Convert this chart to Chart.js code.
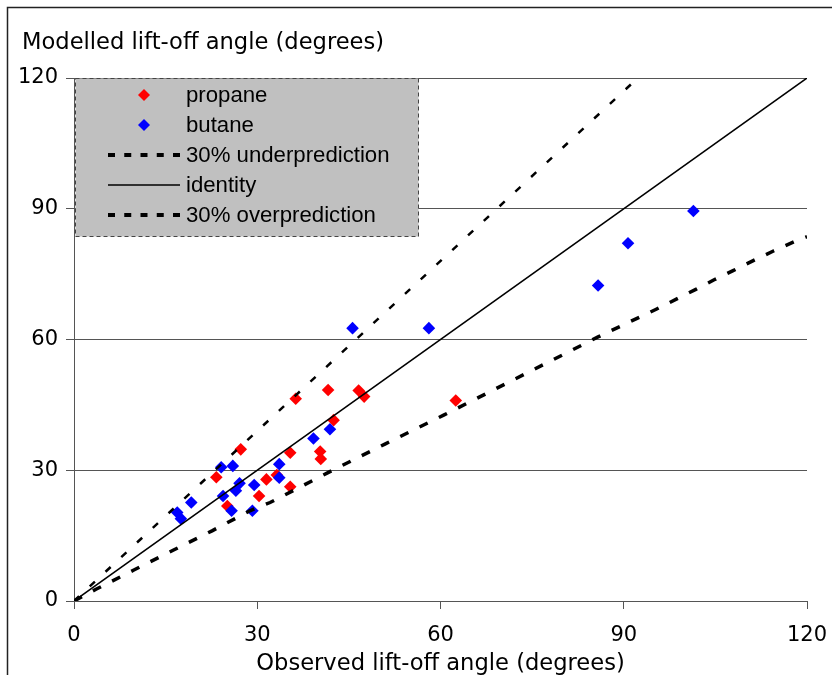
<!DOCTYPE html>
<html>
<head>
<meta charset="utf-8">
<script src="https://cdn.jsdelivr.net/npm/chart.js@4/dist/chart.umd.min.js"></script>
<style>
  html, body { margin: 0; padding: 0; background: #fff; }
  canvas { display: block; }
</style>
</head>
<body>
<canvas id="c" width="832" height="675"></canvas>
<script>
// Axis ticks and titles
const axisTicks = [0, 30, 60, 90, 120];
const xTitle = 'Observed lift-off angle (degrees)';
const yTitle = 'Modelled lift-off angle (degrees)';

// Propane: observed vs modelled lift-off angle
const propaneObserved = [36.3, 41.6, 46.6, 47.5, 42.5, 62.5, 27.3, 35.4, 40.3, 40.4, 23.3, 31.5, 33.2, 35.4, 30.3, 25.1];
const propaneModelled = [46.4, 48.4, 48.3, 46.9, 41.5, 46.0, 34.8, 34.0, 34.3, 32.6, 28.4, 27.9, 28.9, 26.2, 24.1, 21.8];

// Butane: observed vs modelled lift-off angle
const butaneObserved = [101.4, 90.7, 85.8, 45.6, 58.1, 41.9, 39.2, 24.1, 26.0, 33.6, 33.6, 27.1, 29.5, 26.5, 24.4, 25.8, 29.2, 19.2, 16.9, 17.5];
const butaneModelled = [89.5, 82.1, 72.4, 62.6, 62.6, 39.4, 37.3, 30.7, 31.0, 31.4, 28.3, 27.0, 26.6, 25.3, 24.1, 20.7, 20.7, 22.6, 20.3, 18.9];

// Reference lines
const underX = [0, 92.3];
const underY = [0, 120];
const identityX = [0, 120];
const identityY = [0, 120];
const overX = [0, 3.6, 9.8, 16.3, 22.6, 28.8, 32.1, 41.5, 50.9, 60.6, 69.9, 85.8, 95.4, 101.8, 104.8, 107.9, 111.2, 114.5, 118.3, 120];
const overY = [0, 2.7, 7.1, 11.7, 16.1, 20.7, 22.6, 29.4, 36.0, 42.7, 49.3, 60.6, 67.0, 71.5, 73.7, 75.8, 78.1, 80.3, 82.7, 83.6];

const toPoints = (xs, ys) => xs.map((x, i) => ({ x, y: ys[i] }));

Chart.defaults.font.family = '"DejaVu Sans", Verdana, sans-serif';
Chart.defaults.color = '#000';

// White page, outer frame and the vertical-axis caption
const framePlugin = {
  id: 'frame',
  beforeDraw(chart) {
    const ctx = chart.ctx;
    ctx.save();
    ctx.fillStyle = '#fff';
    ctx.fillRect(0, 0, chart.width, chart.height);
    ctx.strokeStyle = '#222';
    ctx.lineWidth = 1.5;
    ctx.strokeRect(7.5, 7.5, chart.width + 40, chart.height + 40);
    ctx.fillStyle = '#000';
    ctx.font = '22.6px "DejaVu Sans"';
    ctx.textBaseline = 'alphabetic';
    ctx.textAlign = 'left';
    ctx.fillText(yTitle, 22, 49);
    ctx.restore();
  }
};

// Grey boxed legend in the upper-left corner of the plot
const legendBoxPlugin = {
  id: 'legendBox',
  afterDraw(chart) {
    const ctx = chart.ctx;
    const x0 = 75.5, y0 = 78.5, w = 343, h = 158;
    ctx.save();
    ctx.fillStyle = '#c0c0c0';
    ctx.fillRect(x0, y0, w, h);
    ctx.setLineDash([4, 3]);
    ctx.strokeStyle = '#444';
    ctx.lineWidth = 1;
    ctx.strokeRect(x0, y0, w, h);
    chart.data.datasets.forEach((ds, i) => {
      const cy = 95 + i * 30;
      if (ds.showLine) {
        ctx.setLineDash(ds.borderDash ? [7, 9.25] : []);
        ctx.lineWidth = ds.borderDash ? 4 : 1.5;
        ctx.strokeStyle = ds.borderColor;
        ctx.beginPath();
        ctx.moveTo(108, cy);
        ctx.lineTo(180, cy);
        ctx.stroke();
      } else {
        ctx.setLineDash([]);
        ctx.fillStyle = ds.backgroundColor;
        Chart.helpers.drawPoint(ctx, { pointStyle: ds.pointStyle, radius: 6, borderWidth: 0, rotation: 0 }, 144, cy);
      }
      ctx.setLineDash([]);
      ctx.fillStyle = '#000';
      ctx.font = '22.2px "Liberation Sans", Arial, sans-serif';
      ctx.textBaseline = 'middle';
      ctx.textAlign = 'left';
      ctx.fillText(ds.label, 186, cy + 1);
    });
    ctx.restore();
  }
};

const axisColor = '#555';

new Chart(document.getElementById('c'), {
  type: 'scatter',
  data: {
    datasets: [
      {
        label: 'propane',
        data: toPoints(propaneObserved, propaneModelled),
        backgroundColor: '#ff0000', borderColor: '#ff0000',
        pointStyle: 'rectRot', pointRadius: 6.3, pointHoverRadius: 6.3, borderWidth: 0,
        order: 5
      },
      {
        label: 'butane',
        data: toPoints(butaneObserved, butaneModelled),
        backgroundColor: '#0000ff', borderColor: '#0000ff',
        pointStyle: 'rectRot', pointRadius: 6.3, pointHoverRadius: 6.3, borderWidth: 0,
        order: 4
      },
      {
        label: '30% underprediction',
        data: toPoints(underX, underY),
        showLine: true, borderColor: '#000', backgroundColor: '#000',
        borderWidth: 2.5, borderDash: [7, 14.5], pointRadius: 0, fill: false,
        order: 3
      },
      {
        label: 'identity',
        data: toPoints(identityX, identityY),
        showLine: true, borderColor: '#000', backgroundColor: '#000',
        borderWidth: 1.5, pointRadius: 0, fill: false,
        order: 2
      },
      {
        label: '30% overprediction',
        data: toPoints(overX, overY),
        showLine: true, borderColor: '#000', backgroundColor: '#000',
        borderWidth: 3.5, borderDash: [9, 12.5], pointRadius: 0, fill: false,
        order: 1
      }
    ]
  },
  options: {
    responsive: false,
    animation: false,
    devicePixelRatio: 1,
    layout: { padding: { top: 78, right: 25, bottom: 0, left: 0 } },
    plugins: {
      legend: { display: false },
      tooltip: { enabled: false },
      title: { display: false }
    },
    scales: {
      x: {
        type: 'linear', min: 0, max: 120,
        afterBuildTicks: (s) => { s.ticks = axisTicks.map(v => ({ value: v })); },
        afterFit: (s) => { s.height = 74; s.paddingLeft = 0; s.paddingRight = 0; },
        grid: { display: true, drawOnChartArea: false, drawTicks: true, tickLength: 8, color: axisColor },
        border: { display: true, color: axisColor, width: 1 },
        ticks: { font: { size: 21 }, color: '#000', padding: 14, maxRotation: 0 },
        title: { display: true, text: xTitle, font: { size: 22.6, lineHeight: 1 }, color: '#000', padding: { top: 0, bottom: 0 } }
      },
      y: {
        type: 'linear', min: 0, max: 120,
        afterBuildTicks: (s) => { s.ticks = axisTicks.map(v => ({ value: v })); },
        afterFit: (s) => { s.width = 74; s.paddingTop = 0; s.paddingBottom = 0; },
        grid: { display: true, drawOnChartArea: true, drawTicks: true, tickLength: 8, color: axisColor },
        border: { display: true, color: axisColor, width: 1 },
        ticks: { font: { size: 21 }, color: '#000', padding: 8 }
      }
    }
  },
  plugins: [framePlugin, legendBoxPlugin]
});
</script>
</body>
</html>
